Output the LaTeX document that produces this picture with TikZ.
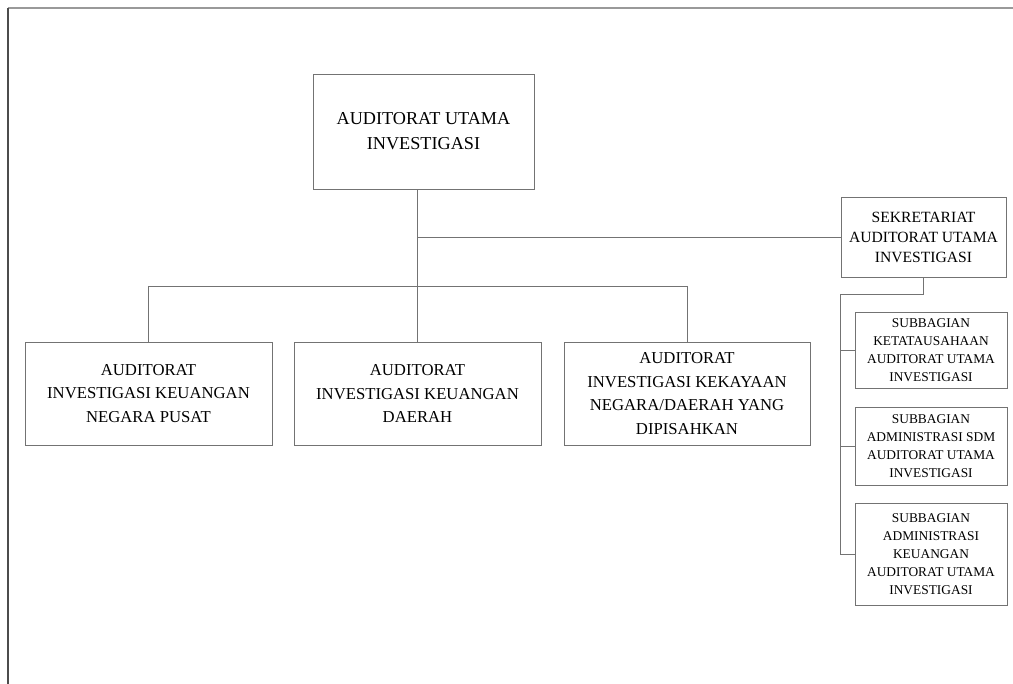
\documentclass[tikz,border=0pt]{standalone}
\usepackage{fontspec}
\setmainfont{Liberation Serif}
\begin{document}
\begin{tikzpicture}[x=1pt,y=-1pt,
  box/.style={draw=black!55, line width=0.9pt, rectangle, inner sep=0pt, align=center},
  topbox/.style={box, font=\fontsize{18.2}{25}\selectfont},
  midbox/.style={box, font=\fontsize{16.7}{23.5}\selectfont},
  sekbox/.style={box, font=\fontsize{15.6}{20}\selectfont},
  subbox/.style={box, font=\fontsize{13.4}{18}\selectfont},
  conn/.style={draw=black!55, line width=0.9pt}]
\useasboundingbox (0,0) rectangle (1013,684);
% frame
\draw[black!40, line width=1.2pt] (8,8) -- (1013,8);
\draw[black!70, line width=1.2pt] (8,8) -- (8,684);
% nodes
\node[topbox, minimum width=221, minimum height=115] (top) at (423.5,131.5) {AUDITORAT UTAMA\\INVESTIGASI};
\node[sekbox, minimum width=165, minimum height=80] (sek) at (923.5,237) {SEKRETARIAT\\AUDITORAT UTAMA\\INVESTIGASI};
\node[midbox, minimum width=247, minimum height=103] (b1) at (148.5,393.5) {AUDITORAT\\INVESTIGASI KEUANGAN\\NEGARA PUSAT};
\node[midbox, minimum width=247, minimum height=103] (b2) at (417.5,393.5) {AUDITORAT\\INVESTIGASI KEUANGAN\\DAERAH};
\node[midbox, minimum width=246, minimum height=103] (b3) at (687,393.5) {AUDITORAT\\INVESTIGASI KEKAYAAN\\NEGARA/DAERAH YANG\\DIPISAHKAN};
\node[subbox, minimum width=152, minimum height=76] (s1) at (931,350) {SUBBAGIAN\\KETATAUSAHAAN\\AUDITORAT UTAMA\\INVESTIGASI};
\node[subbox, minimum width=152, minimum height=78] (s2) at (931,446) {SUBBAGIAN\\ADMINISTRASI SDM\\AUDITORAT UTAMA\\INVESTIGASI};
\node[subbox, minimum width=152, minimum height=102] (s3) at (931,554) {SUBBAGIAN\\ADMINISTRASI\\KEUANGAN\\AUDITORAT UTAMA\\INVESTIGASI};
% connectors
\coordinate (bus) at (0,286);
\coordinate (sbus) at (0,294);
\draw[conn] (top.south -| b2.north) -- (b2.north);
\draw[conn] (b2.north |- sek.west) -- (sek.west);
\draw[conn] (b1.north |- bus) -- (b3.north |- bus);
\draw[conn] (b1.north |- bus) -- (b1.north);
\draw[conn] (b3.north |- bus) -- (b3.north);
\draw[conn] (sek.south) -- (sek.south |- sbus) -- (sek.west |- sbus) -- (sek.west |- s3.west) -- (s3.west);
\draw[conn] (sek.west |- s1.west) -- (s1.west);
\draw[conn] (sek.west |- s2.west) -- (s2.west);
\end{tikzpicture}
\end{document}
